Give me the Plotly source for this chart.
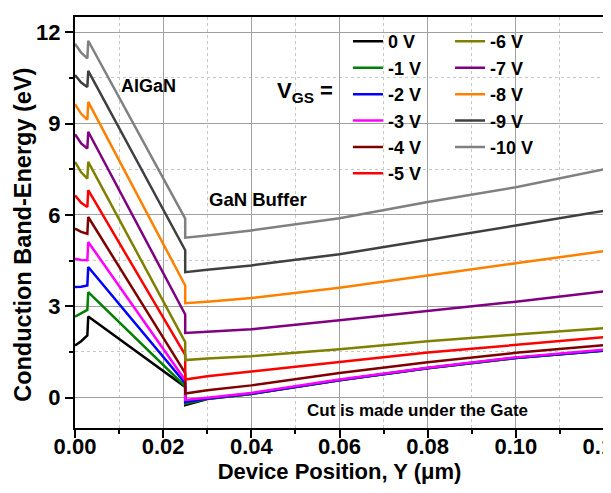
import plotly.graph_objects as go

# Device position (um) sample points
x_pos = [0.0, 0.0014, 0.0028, 0.003, 0.025, 0.025, 0.03, 0.04, 0.06, 0.08, 0.10, 0.12]

labels = ["0 V", "-1 V", "-2 V", "-3 V", "-4 V", "-5 V",
          "-6 V", "-7 V", "-8 V", "-9 V", "-10 V"]

e_0v = [1.71, 1.85, 2.04, 2.66, 0.35, -0.25, -0.05, 0.12, 0.57, 0.96, 1.30, 1.54]
e_m1v = [2.66, 2.76, 2.88, 3.46, 0.37, -0.20, -0.04, 0.12, 0.57, 0.96, 1.30, 1.54]
e_m2v = [3.63, 3.64, 3.68, 4.29, 0.47, -0.15, -0.03, 0.13, 0.58, 0.97, 1.31, 1.55]
e_m3v = [4.56, 4.52, 4.51, 5.11, 0.57, -0.08, -0.01, 0.15, 0.59, 0.98, 1.32, 1.57]
e_m4v = [5.55, 5.44, 5.38, 5.93, 0.80, 0.13, 0.24, 0.40, 0.81, 1.16, 1.47, 1.72]
e_m5v = [6.64, 6.40, 6.26, 6.81, 1.40, 0.59, 0.70, 0.85, 1.17, 1.48, 1.74, 1.98]
e_m6v = [7.74, 7.40, 7.19, 7.74, 1.82, 1.23, 1.28, 1.36, 1.59, 1.85, 2.07, 2.28]
e_m7v = [8.65, 8.35, 8.18, 8.73, 2.73, 2.12, 2.16, 2.24, 2.54, 2.85, 3.15, 3.49]
e_m8v = [9.64, 9.32, 9.13, 9.71, 3.68, 3.10, 3.15, 3.27, 3.61, 4.02, 4.41, 4.81]
e_m9v = [10.59, 10.35, 10.20, 10.73, 4.84, 4.12, 4.20, 4.34, 4.71, 5.17, 5.65, 6.13]
e_m10v = [11.62, 11.33, 11.14, 11.72, 5.88, 5.25, 5.32, 5.49, 5.89, 6.42, 6.91, 7.50]

series = [e_0v, e_m1v, e_m2v, e_m3v, e_m4v, e_m5v, e_m6v, e_m7v, e_m8v, e_m9v, e_m10v]
colors = ["#000000", "#008000", "#0000FF", "#FF00FF", "#800000", "#FF0000",
          "#808000", "#800080", "#FF8000", "#404040", "#808080"]

FONT = "Arial, Liberation Sans, sans-serif"

fig = go.Figure()
for i, (lab, ys, c) in enumerate(zip(labels, series, colors)):
    fig.add_trace(go.Scatter(
        x=x_pos, y=ys, mode="lines", name=lab,
        line=dict(color=c, width=2.5),
        legend="legend" if i < 6 else "legend2",
    ))

axis_common = dict(
    showline=True, mirror=True, linecolor="black", linewidth=2,
    ticks="outside", ticklen=8, tickwidth=2, tickcolor="black",
    showgrid=True, gridcolor="#a0a0a0", gridwidth=1,
    zeroline=False, automargin=False, ticklabeloverflow="allow",
    tickfont=dict(family=FONT, size=22, color="black", weight="bold"),
)

leg_font = dict(family=FONT, size=18, color="black", weight="bold")

# the page body adds an 8px offset, so the figure is sized to fit the 611x493 window
fig.update_layout(
    template="none",
    width=603, height=485,
    margin=dict(l=67, r=7, t=9, b=65),
    paper_bgcolor="white", plot_bgcolor="white",
    font=dict(family=FONT, color="black"),
    xaxis=dict(
        range=[0, 0.12], dtick=0.02, tick0=0, tickformat=".2f",
        ticklabelstandoff=-10,
        minor=dict(dtick=0.01, ticks="outside", ticklen=4, tickwidth=2, tickcolor="black",
                   showgrid=True, gridcolor="#c8c8c8", griddash="dot", gridwidth=1),
        title=dict(text="Device Position, Y (μm)",
                   font=dict(family=FONT, size=22, color="black", weight="bold"), standoff=0),
        **axis_common,
    ),
    yaxis=dict(
        range=[-1, 12.5], dtick=3, tick0=0,
        minor=dict(dtick=1.5, ticks="outside", ticklen=4, tickwidth=2, tickcolor="black",
                   showgrid=True, gridcolor="#c8c8c8", griddash="dot", gridwidth=1),
        **axis_common,
    ),
    legend=dict(
        x=0.516, y=0.985, xanchor="left", yanchor="top",
        bgcolor="rgba(0,0,0,0)", borderwidth=0, font=leg_font, itemwidth=30,
    ),
    legend2=dict(
        x=0.709, y=0.985, xanchor="left", yanchor="top",
        bgcolor="rgba(0,0,0,0)", borderwidth=0, font=leg_font, itemwidth=30,
    ),
    showlegend=True,
)

ann_font = dict(family=FONT, color="black", weight="bold")
# y-axis title
fig.add_annotation(text="Conduction Band-Energy (eV)", x=-0.0983, y=0.47, xref="paper", yref="paper",
                   textangle=-90, showarrow=False, xanchor="center", yanchor="middle",
                   font=dict(size=23.5, **ann_font))
fig.add_annotation(text="AlGaN", x=0.0166, y=10.22, xref="x", yref="y", showarrow=False,
                   font=dict(size=18, **ann_font))
fig.add_annotation(text="GaN Buffer", x=0.0415, y=6.51, xref="x", yref="y", showarrow=False,
                   font=dict(size=18.5, **ann_font))
fig.add_annotation(text="Cut is made under the Gate", x=0.0776, y=-0.43, xref="x", yref="y",
                   showarrow=False, font=dict(size=17, **ann_font))
fig.add_annotation(text="V<sub>GS</sub> =", x=0.0522, y=10.05, xref="x", yref="y", showarrow=False,
                   xanchor="center", font=dict(size=22, **ann_font))

fig.write_html("out.html")
